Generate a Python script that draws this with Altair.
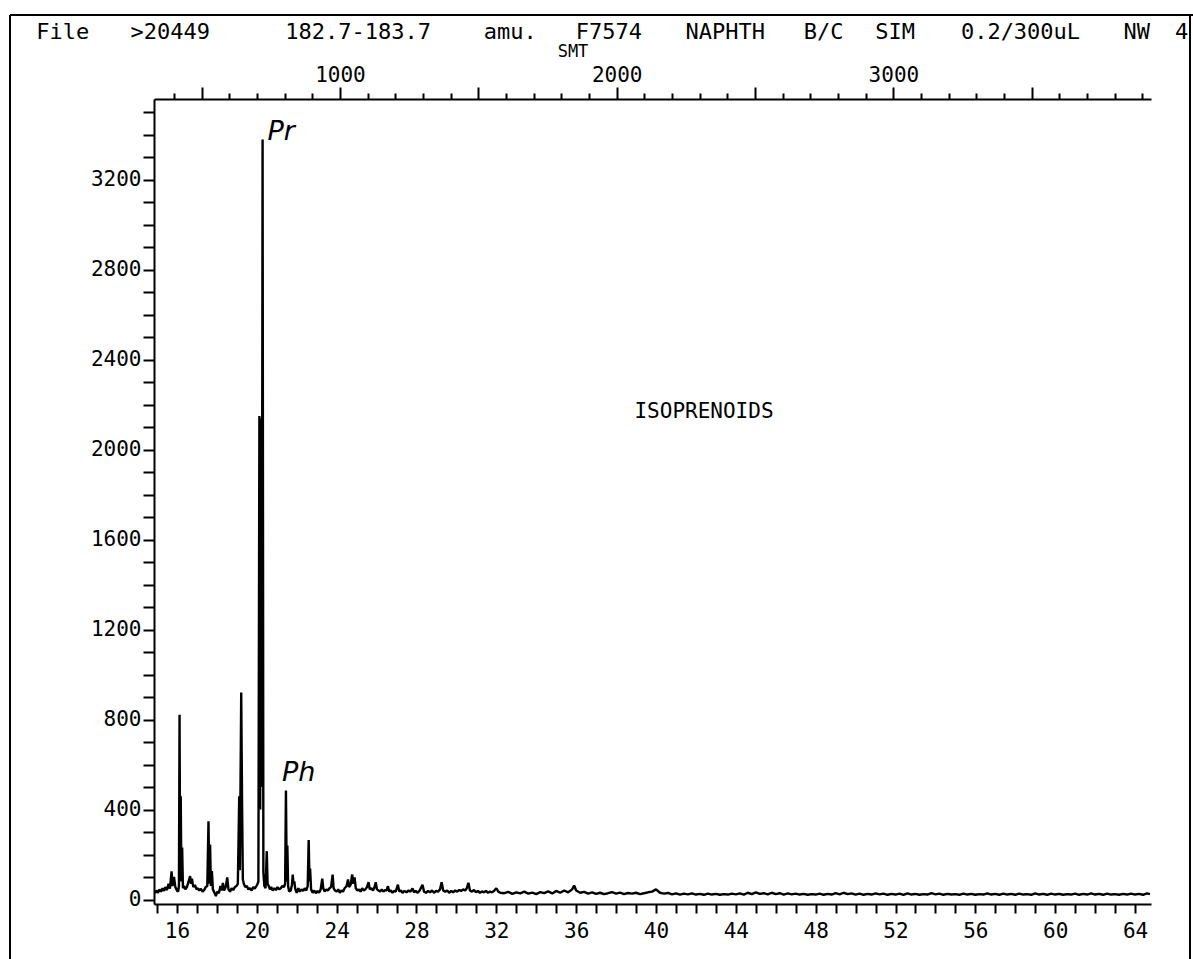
import altair as alt
import pandas as pd

# ---- layout (pixels) ----
PAGE_W, PAGE_H = 1193, 959
PAD_L, PAD_T = 154, 99
W, H = 997, 805

# ---- m/z 183 trace: (retention time in min, abundance) ----
trace_early = [
    (14.90, 28), (14.98, 40), (15.05, 30), (15.12, 45), (15.20, 35), (15.28, 50),
    (15.35, 38), (15.42, 55), (15.50, 42), (15.58, 70), (15.65, 48), (15.73, 125),
    (15.78, 60), (15.85, 100), (15.92, 55), (16.00, 40), (16.06, 35), (16.10, 60),
    (16.13, 822), (16.16, 90), (16.19, 459), (16.22, 80), (16.26, 231), (16.30, 50),
    (16.36, 60), (16.42, 45), (16.50, 55), (16.58, 80), (16.66, 104), (16.70, 70),
    (16.75, 92), (16.82, 55), (16.90, 65), (16.98, 45), (17.05, 50), (17.12, 40),
    (17.20, 48), (17.28, 35), (17.36, 42), (17.44, 55), (17.52, 60), (17.58, 348),
    (17.62, 70), (17.66, 245), (17.70, 60), (17.75, 126), (17.80, 45), (17.88, 30),
    (17.95, 15), (18.02, 35), (18.10, 28), (18.18, 60), (18.24, 40), (18.30, 74),
    (18.36, 40), (18.44, 55), (18.52, 98), (18.58, 45), (18.66, 35), (18.74, 50),
    (18.82, 42), (18.90, 55), (18.98, 60), (19.05, 70), (19.12, 459), (19.15, 130),
    (19.18, 452), (19.22, 920), (19.26, 452), (19.30, 90), (19.35, 70), (19.42, 55),
    (19.50, 60), (19.58, 45), (19.66, 50), (19.74, 40), (19.82, 55), (19.90, 48),
    (19.98, 60), (20.04, 70), (20.08, 80), (20.13, 2150), (20.17, 400), (20.21, 2140),
    (20.25, 500), (20.29, 3380), (20.33, 120), (20.38, 60), (20.44, 50), (20.50, 215),
    (20.54, 70), (20.60, 60), (20.66, 45), (20.72, 55), (20.80, 40), (20.88, 50),
    (20.96, 42), (21.04, 55), (21.12, 45), (21.20, 50), (21.28, 60), (21.36, 55),
    (21.42, 70), (21.46, 485), (21.50, 80), (21.53, 240), (21.57, 60), (21.62, 35),
    (21.70, 40), (21.76, 65), (21.80, 111), (21.84, 70), (21.88, 80), (21.93, 45),
    (22.00, 30), (22.08, 50), (22.16, 35), (22.24, 45), (22.32, 38), (22.40, 50),
    (22.48, 40), (22.55, 60), (22.60, 265), (22.64, 80), (22.67, 138), (22.72, 45),
    (22.80, 30), (22.88, 40), (22.96, 28), (23.04, 38), (23.12, 30), (23.20, 45),
    (23.28, 93), (23.33, 50), (23.40, 35), (23.48, 45), (23.56, 40), (23.64, 50),
    (23.72, 55), (23.80, 111), (23.85, 50), (23.92, 40), (24.00, 35), (24.08, 45),
    (24.16, 30), (24.24, 40), (24.32, 35), (24.40, 50), (24.50, 60), (24.57, 89),
    (24.62, 55), (24.70, 65), (24.78, 111), (24.84, 70), (24.90, 98), (24.96, 50),
    (25.04, 40), (25.12, 45), (25.20, 35), (25.28, 50), (25.36, 40), (25.44, 45),
    (25.52, 55), (25.60, 77), (25.66, 45), (25.74, 50), (25.82, 40), (25.90, 55),
    (25.96, 77), (26.02, 45), (26.10, 40), (26.18, 35), (26.26, 45), (26.34, 35),
    (26.42, 42), (26.50, 40), (26.57, 59), (26.64, 35), (26.72, 40), (26.80, 30),
    (26.88, 38), (26.96, 35), (27.07, 66), (27.14, 35), (27.22, 40), (27.30, 30),
    (27.40, 38), (27.50, 32), (27.60, 40), (27.70, 35), (27.80, 49), (27.88, 32),
    (27.96, 38), (28.06, 30), (28.16, 40), (28.30, 65), (28.38, 35), (28.48, 30),
    (28.58, 38), (28.68, 32), (28.78, 40), (28.88, 30), (28.98, 38), (29.08, 35),
    (29.18, 45), (29.26, 77), (29.34, 40), (29.44, 35), (29.54, 40), (29.64, 30),
    (29.74, 38), (29.84, 32), (29.94, 40), (30.04, 35), (30.14, 42), (30.24, 38),
    (30.34, 45), (30.44, 40), (30.52, 50), (30.60, 74), (30.68, 40), (30.78, 35),
    (30.88, 42), (30.98, 33), (31.08, 38), (31.18, 30), (31.28, 36), (31.38, 32),
    (31.48, 38), (31.58, 30), (31.68, 35), (31.78, 32), (31.88, 38), (32.00, 50),
    (32.10, 35), (32.20, 30),
]

trace_late = [
    (32.4, 28), (32.6, 34), (32.8, 25), (33.0, 32), (33.2, 27), (33.4, 35), (33.6, 26),
    (33.8, 31), (34.0, 24), (34.2, 33), (34.4, 28), (34.6, 36), (34.8, 27), (35.0, 38),
    (35.2, 30), (35.4, 40), (35.6, 32), (35.8, 45), (35.9, 62), (36.0, 40), (36.2, 30),
    (36.4, 34), (36.6, 26), (36.8, 32), (37.0, 25), (37.2, 30), (37.4, 24), (37.6, 28),
    (37.8, 33), (38.0, 26), (38.2, 31), (38.4, 24), (38.6, 29), (38.8, 26), (39.0, 30),
    (39.2, 24), (39.4, 28), (39.6, 32), (39.8, 35), (40.0, 45), (40.2, 30), (40.4, 26),
    (40.6, 29), (40.8, 23), (41.0, 27), (41.2, 22), (41.4, 26), (41.6, 23), (41.8, 27),
    (42.0, 22), (42.2, 25), (42.4, 21), (42.6, 26), (42.8, 22), (43.0, 25), (43.2, 21),
    (43.4, 24), (43.6, 22), (43.8, 26), (44.0, 23), (44.2, 27), (44.4, 22), (44.6, 30),
    (44.8, 24), (45.0, 32), (45.2, 25), (45.4, 28), (45.6, 23), (45.8, 30), (46.0, 24),
    (46.2, 28), (46.4, 22), (46.6, 27), (46.8, 23), (47.0, 26), (47.2, 22), (47.4, 25),
    (47.6, 21), (47.8, 24), (48.0, 22), (48.2, 26), (48.4, 21), (48.6, 25), (48.8, 22),
    (49.0, 28), (49.2, 23), (49.4, 30), (49.6, 24), (49.8, 27), (50.0, 22), (50.2, 26),
    (50.4, 21), (50.6, 25), (50.8, 22), (51.0, 27), (51.2, 23), (51.4, 26), (51.6, 21),
    (51.8, 25), (52.0, 22), (52.2, 26), (52.4, 21), (52.6, 27), (52.8, 22), (53.0, 25),
    (53.2, 21), (53.4, 24), (53.6, 22), (53.8, 28), (54.0, 23), (54.2, 26), (54.4, 21),
    (54.6, 25), (54.8, 22), (55.0, 24), (55.2, 21), (55.4, 26), (55.6, 22), (55.8, 25),
    (56.0, 21), (56.2, 24), (56.4, 22), (56.6, 27), (56.8, 22), (57.0, 25), (57.2, 21),
    (57.4, 26), (57.6, 22), (57.8, 25), (58.0, 21), (58.2, 26), (58.4, 22), (58.6, 24),
    (58.8, 21), (59.0, 27), (59.2, 22), (59.4, 25), (59.6, 21), (59.8, 26), (60.0, 22),
    (60.2, 25), (60.4, 21), (60.6, 24), (60.8, 22), (61.0, 26), (61.2, 21), (61.4, 25),
    (61.6, 22), (61.8, 27), (62.0, 22), (62.2, 25), (62.4, 21), (62.6, 26), (62.8, 22),
    (63.0, 24), (63.2, 21), (63.4, 25), (63.6, 22), (63.8, 26), (64.0, 22), (64.2, 25),
    (64.4, 21), (64.6, 27), (64.75, 24),
]

# ---- axes ----
time_domain = [14.85, 64.8]
abundance_domain = [-20, 3560]
scan_domain = [328, 3931]          # scan numbers spanning the same time window
time_ticks = list(range(15, 65))
time_labels = list(range(16, 65, 4))
abundance_ticks = list(range(0, 3600, 100))
scan_ticks = list(range(400, 3901, 100))
scan_labels = [1000, 2000, 3000]

# ---- annotations ----
peak_names = ["Pr", "Ph"]
peak_times = [20.29, 21.46]
peak_heights = [3380, 485]

header_words = ["File", ">20449", "182.7-183.7", "amu.", "F7574", "NAPHTH",
                "B/C", "SIM", "0.2/300uL", "NW", "4"]
header_cols = [1.5, 7.5, 18, 26.5, 32, 38.5, 44, 48, 55, 61.5, 64]

MONO = "DejaVu Sans Mono"

trace_df = pd.DataFrame(trace_early + trace_late, columns=["time", "abundance"])
peaks_df = pd.DataFrame({"name": peak_names, "time": peak_times, "abundance": peak_heights})
scan_df = pd.DataFrame({"scan": scan_labels})
header_df = pd.DataFrame({
    "word": header_words,
    "px": [36 + 17.9 * c - PAD_L for c in header_cols],
})
one_row = pd.DataFrame({"k": [0]})

time_scale = alt.Scale(domain=time_domain, nice=False, zero=False)
ab_scale = alt.Scale(domain=abundance_domain, nice=False, zero=False)

label_test = " || ".join(f"datum.value === {v}" for v in time_labels)

x_time = alt.X(
    "time:Q", title=None, scale=time_scale,
    axis=alt.Axis(
        orient="bottom", values=time_ticks, format="d",
        labelExpr=f"({label_test}) ? datum.label : ''",
        tickSize=9, labelPadding=7,
    ),
)
y_ab = alt.Y(
    "abundance:Q", title=None, scale=ab_scale,
    axis=alt.Axis(
        orient="left", values=abundance_ticks, format="d",
        labelExpr="datum.value % 400 === 0 ? datum.label : ''",
        tickSize=11, labelPadding=2,
    ),
)

trace = alt.Chart(trace_df).mark_line(
    color="black", strokeWidth=2.4, strokeJoin="bevel"
).encode(x=x_time, y=y_ab)


def peak_label(name, dx, dy):
    # hand-written peak names sitting next to the peak apex
    return alt.Chart(peaks_df[peaks_df.name == name]).mark_text(
        font="DejaVu Sans", fontStyle="italic", fontSize=27, align="left",
        baseline="alphabetic", dx=dx, dy=dy, color="black",
    ).encode(x=x_time, y=y_ab, text="name:N")


plot = alt.layer(trace, peak_label("Pr", 5, 1), peak_label("Ph", -4, -9))

# scan-number axis along the top
scan_axis = alt.Chart(scan_df).mark_point(opacity=0).encode(
    x=alt.X(
        "scan:Q", title=None,
        scale=alt.Scale(domain=scan_domain, nice=False, zero=False),
        axis=alt.Axis(
            orient="top", values=scan_ticks,
            labelExpr="datum.value % 1000 === 0 ? datum.label : ''",
            format="d",
            tickSize={"condition": {"test": "datum.value % 500 === 0", "value": 12}, "value": 6},
            labelPadding=2,
        ),
    ),
    y=alt.value(0),
)

header = alt.Chart(header_df).mark_text(
    font=MONO, fontSize=22, align="center", baseline="alphabetic", color="black"
).encode(
    x=alt.X("px:Q", scale=None, axis=None),
    y=alt.value(39 - PAD_T),
    text="word:N",
)

smt = alt.Chart(one_row).mark_text(
    text="SMT", font=MONO, fontSize=17, align="center", baseline="alphabetic", color="black"
).encode(x=alt.value(573 - PAD_L), y=alt.value(57 - PAD_T))

iso = alt.Chart(one_row).mark_text(
    text="ISOPRENOIDS", font=MONO, fontSize=21, align="center", baseline="middle", color="black"
).encode(x=alt.value(704 - PAD_L), y=alt.value(412 - PAD_T))

# page frame
frame_top = alt.Chart(one_row).mark_rule(color="black", strokeWidth=2).encode(
    x=alt.value(10 - PAD_L), x2=alt.value(PAGE_W - PAD_L), y=alt.value(15 - PAD_T)
)
frame_left = alt.Chart(one_row).mark_rule(color="black", strokeWidth=2).encode(
    x=alt.value(10 - PAD_L), y=alt.value(15 - PAD_T), y2=alt.value(PAGE_H - PAD_T)
)
frame_right = alt.Chart(one_row).mark_rule(color="black", strokeWidth=2).encode(
    x=alt.value(1190 - PAD_L), y=alt.value(15 - PAD_T), y2=alt.value(PAGE_H - PAD_T)
)

chart = alt.layer(
    plot, scan_axis, header, smt, iso, frame_top, frame_left, frame_right
).resolve_scale(x="independent").properties(
    width=W, height=H,
    padding={"left": PAD_L, "top": PAD_T, "right": PAGE_W - PAD_L - W, "bottom": PAGE_H - PAD_T - H},
    autosize=alt.AutoSizeParams(type="none"),
    background="white",
).configure_view(stroke=None).configure_axis(
    labelFont=MONO, labelFontSize=21, labelColor="black",
    domainColor="black", domainWidth=2, tickColor="black", tickWidth=2,
    grid=False, labelOverlap=False, labelFlush=False,
)

chart.save("out.html", embed_options={"renderer": "svg", "actions": False})
